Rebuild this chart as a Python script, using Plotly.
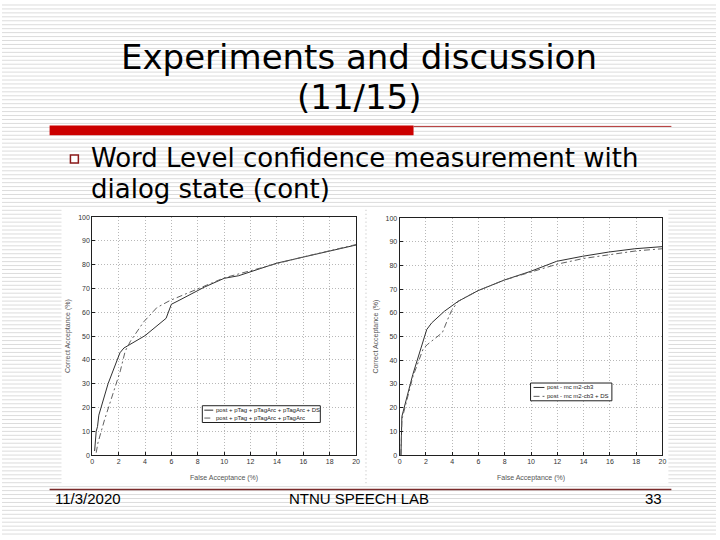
import plotly.graph_objects as go

# ---- data: left chart ----
left_solid_x = [0.18, 0.3, 0.4, 0.5, 1.2, 2.1, 2.4, 4.0, 5.6, 6.0, 6.5, 8.5, 10.0, 11.1, 14.0, 16.2, 20.0]
left_solid_y = [1.7, 10.0, 12.0, 16.8, 30.0, 43.0, 45.0, 50.2, 57.5, 63.4, 64.8, 70.6, 74.3, 75.4, 80.7, 83.4, 88.3]
left_dash_x = [0.3, 0.43, 0.93, 2.13, 2.5, 2.9, 3.9, 4.9, 5.9, 8.0, 10.0, 14.0, 16.0, 20.0]
left_dash_y = [1.0, 5.1, 14.8, 35.4, 43.7, 47.9, 56.0, 62.0, 65.0, 70.0, 74.5, 80.5, 83.3, 88.5]
left_names = ["post + pTag + pTagArc + pTagArc + DS", "post + pTag + pTagArc + pTagArc"]

# ---- data: right chart ----
right_solid_x = [0.1, 0.17, 1.0, 2.06, 2.44, 3.4, 4.45, 5.96, 7.97, 9.99, 11.95, 13.9, 15.9, 17.9, 20.0]
right_solid_y = [0.0, 16.3, 34.0, 53.0, 55.8, 60.7, 64.9, 69.4, 73.9, 77.6, 81.8, 83.9, 85.7, 87.1, 88.0]
right_dash_x = [0.1, 0.17, 1.0, 1.8, 2.14, 3.25, 3.65, 3.95, 4.45, 5.96, 7.97, 9.99, 12.0, 14.0, 16.0, 18.0, 20.0]
right_dash_y = [0.0, 15.0, 33.0, 45.0, 46.8, 51.7, 57.2, 61.0, 64.9, 69.4, 73.9, 77.4, 80.6, 83.0, 84.6, 86.2, 87.1]
right_names = ["post - mc m2-cb3", "post - mc m2-cb3 + DS"]

x_ticks = [0, 2, 4, 6, 8, 10, 12, 14, 16, 18, 20]
y_ticks = [0, 10, 20, 30, 40, 50, 60, 70, 80, 90, 100]

W, H = 720, 540
def px(x): return x / W
def py(y): return 1 - y / H

fig = go.Figure()
solid_color, dash_color = "#303030", "#606060"
dash_pattern = "6px,3px,2px,3px"
solid_style = dict(color=solid_color, width=1)
dash_style = dict(color=dash_color, width=1, dash=dash_pattern)

fig.add_trace(go.Scatter(x=left_solid_x, y=left_solid_y, mode="lines", name=left_names[0],
                         line=solid_style, xaxis="x", yaxis="y"))
fig.add_trace(go.Scatter(x=left_dash_x, y=left_dash_y, mode="lines", name=left_names[1],
                         line=dash_style, xaxis="x", yaxis="y"))
fig.add_trace(go.Scatter(x=right_solid_x, y=right_solid_y, mode="lines", name=right_names[0],
                         line=solid_style, xaxis="x2", yaxis="y2"))
fig.add_trace(go.Scatter(x=right_dash_x, y=right_dash_y, mode="lines", name=right_names[1],
                         line=dash_style, xaxis="x2", yaxis="y2"))

axis_common = dict(showgrid=True, gridcolor="#b8b8b8", griddash="1px,2px", gridwidth=1,
                   showline=True, linecolor="#202020", linewidth=1, mirror=True,
                   zeroline=False, ticks="inside", ticklen=3, tickcolor="#202020",
                   tickfont=dict(family="Liberation Sans", size=7, color="#333"))
xtitle = dict(text="False Acceptance (%)", font=dict(family="Liberation Sans", size=7, color="#555"), standoff=10)
ytitle = dict(text="Correct Acceptance (%)", font=dict(family="Liberation Sans", size=7, color="#555"), standoff=6)

# stripe background
stripe_path = " ".join(f"M0,{py(y):.5f} L1,{py(y):.5f}" for y in range(1, 540, 4))
shapes = [
    dict(type="path", xref="paper", yref="paper", path=stripe_path,
         line=dict(color="#dcdcdc", width=1), layer="below"),
    dict(type="rect", xref="paper", yref="paper", x0=px(60), x1=px(366), y0=py(486), y1=py(206),
         fillcolor="white", line=dict(width=0), layer="below"),
    dict(type="rect", xref="paper", yref="paper", x0=px(368), x1=px(672), y0=py(486), y1=py(206),
         fillcolor="white", line=dict(width=0), layer="below"),
    # red title bar and thin line
    dict(type="rect", xref="paper", yref="paper", x0=px(48), x1=px(415), y0=py(133), y1=py(123),
         fillcolor="#cc0000", line=dict(width=0)),
    dict(type="line", xref="paper", yref="paper", x0=px(415), x1=px(675), y0=py(124), y1=py(124),
         line=dict(color="#b03030", width=1)),
    # bullet
    dict(type="rect", xref="paper", yref="paper", x0=px(69), x1=px(77), y0=py(161), y1=py(153),
         fillcolor="white", line=dict(color="#8b1a1a", width=1.5)),
    # footer line
    dict(type="line", xref="paper", yref="paper", x0=px(48), x1=px(675), y0=py(492), y1=py(492),
         line=dict(color="#7a2a2a", width=1.5)),
]

annotations = [
    dict(text="Experiments and discussion", x=px(360), y=py(54), xref="paper", yref="paper",
         showarrow=False, font=dict(family="DejaVu Sans", size=34, color="black"), xanchor="center", yanchor="middle"),
    dict(text="(11/15)", x=px(360), y=py(94), xref="paper", yref="paper",
         showarrow=False, font=dict(family="DejaVu Sans", size=34, color="black"), xanchor="center", yanchor="middle"),
    dict(text="Word Level confidence measurement with", x=px(88), y=py(156), xref="paper", yref="paper",
         showarrow=False, font=dict(family="DejaVu Sans", size=26, color="black"), xanchor="left", yanchor="middle"),
    dict(text="dialog state (cont)", x=px(88), y=py(187), xref="paper", yref="paper",
         showarrow=False, font=dict(family="DejaVu Sans", size=26, color="black"), xanchor="left", yanchor="middle"),
    dict(text="11/3/2020", x=px(51), y=py(501), xref="paper", yref="paper",
         showarrow=False, font=dict(family="Liberation Sans", size=15, color="black"), xanchor="left", yanchor="middle"),
    dict(text="NTNU SPEECH LAB", x=px(360), y=py(501), xref="paper", yref="paper",
         showarrow=False, font=dict(family="Liberation Sans", size=15, color="black"), xanchor="center", yanchor="middle"),
    dict(text="33", x=px(668), y=py(501), xref="paper", yref="paper",
         showarrow=False, font=dict(family="Liberation Sans", size=15, color="black"), xanchor="right", yanchor="middle"),
]

# compact legends drawn in the chart's own legend style (box, line samples, labels)
def add_legend(box, rows, names):
    x0, y0, x1, y1 = box
    shapes.append(dict(type="rect", xref="paper", yref="paper", x0=px(x0), x1=px(x1), y0=py(y1), y1=py(y0),
                       fillcolor="white", line=dict(color="#202020", width=1)))
    styles = [dict(color=solid_color, width=1), dict(color=dash_color, width=1, dash=dash_pattern)]
    for (ly, lx0, lx1, tx), name, st in zip(rows, names, styles):
        shapes.append(dict(type="line", xref="paper", yref="paper", x0=px(lx0), x1=px(lx1),
                           y0=py(ly), y1=py(ly), line=st))
        annotations.append(dict(text=name, x=px(tx), y=py(ly), xref="paper", yref="paper", showarrow=False,
                                font=dict(family="Liberation Sans", size=6, color="#222"),
                                xanchor="left", yanchor="middle"))

add_legend((202, 407, 321, 424), [(411.5, 204, 213, 214), (419.5, 204, 213, 214)], left_names)
add_legend((533, 384, 615, 402), [(388.5, 536, 547, 548), (397.5, 536, 547, 548)], right_names)

fig.update_layout(
    width=W, height=H, margin=dict(l=0, r=0, t=0, b=0),
    paper_bgcolor="white", plot_bgcolor="rgba(0,0,0,0)",
    xaxis=dict(domain=[px(91), px(357)], range=[0, 20], tickvals=x_ticks, title=xtitle, anchor="y", **axis_common),
    yaxis=dict(domain=[py(457), py(216)], range=[0, 100], tickvals=y_ticks, title=ytitle, anchor="x", **axis_common),
    xaxis2=dict(domain=[px(401), px(666)], range=[0, 20], tickvals=x_ticks, title=xtitle, anchor="y2", **axis_common),
    yaxis2=dict(domain=[py(457), py(217)], range=[0, 100], tickvals=y_ticks, title=ytitle, anchor="x2", **axis_common),
    shapes=shapes, annotations=annotations, showlegend=False,
)

fig.write_html("out.html", config={"displayModeBar": False},
               post_script="document.body.style.margin='0';")
